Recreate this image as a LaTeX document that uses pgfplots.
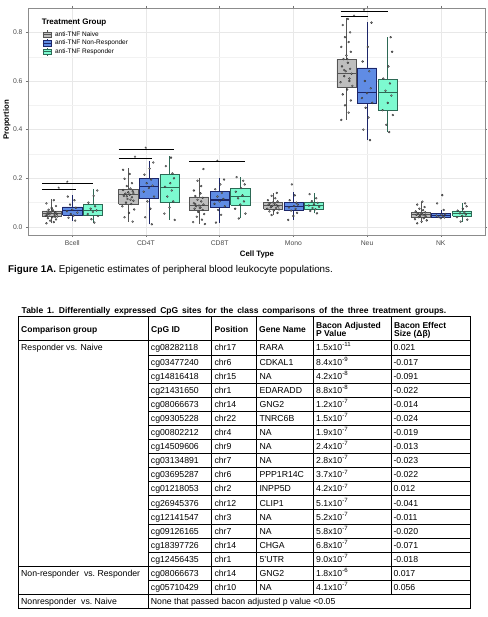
\documentclass[border=0pt]{standalone}
\usepackage{fontspec}
\setmainfont{Liberation Sans}
\usepackage{pgfplots}
\pgfplotsset{compat=1.18}
\definecolor{greyfill}{RGB}{190,190,190}
\definecolor{greyline}{RGB}{85,85,85}
\definecolor{bluefill}{RGB}{96,140,228}
\definecolor{blueline}{RGB}{28,38,105}
\definecolor{greenfill}{RGB}{125,250,208}
\definecolor{greenline}{RGB}{45,105,85}
\pgfplotsset{
  pts/.style={only marks, mark=*, mark size=1pt, mark options={draw=black!85, fill=black!45, line width=0.25pt}, forget plot},
  sig/.style={black, line width=1.1pt, forget plot},
}
\newcommand{\pts}[2]{\addplot[pts] table[x expr=\thisrow{j}+#1, y=v, row sep=\\]{#2};}
% #1 fill, #2 line, #3 centre, #4 lower whisker, #5 q1, #6 median, #7 q3, #8 upper whisker
\newcommand{\bx}[8]{%
\addplot[draw=#2, line width=0.5pt, forget plot] table[x expr=\thisrow{d}+#3, y=v, row sep=\\]{d v\\ 0 #4\\ 0 #5\\};
\addplot[draw=#2, line width=0.5pt, forget plot] table[x expr=\thisrow{d}+#3, y=v, row sep=\\]{d v\\ 0 #7\\ 0 #8\\};
\addplot[draw=#2, fill=#1, line width=0.5pt, forget plot] table[x expr=\thisrow{d}+#3, y=v, row sep=\\]{d v\\ -0.13 #5\\ 0.13 #5\\ 0.13 #7\\ -0.13 #7\\ -0.13 #5\\};
\addplot[draw=#2, line width=1.1pt, forget plot] table[x expr=\thisrow{d}+#3, y=v, row sep=\\]{d v\\ -0.13 #6\\ 0.13 #6\\};
}
\newcommand{\sigstar}[3]{\node[font=\fontsize{6.5}{6.5}\selectfont, inner sep=0pt, anchor=base] at (axis cs:#1,#2) [yshift=#3] {*};}
\newcommand{\lkey}[2]{\addlegendimage{legend image code/.code={\draw[draw=#2, fill=#1, line width=0.4pt] (0pt,-2.6pt) rectangle (8.5pt,2.6pt); \draw[#2, line width=0.7pt] (0pt,0pt) -- (8.5pt,0pt); \draw[#2, line width=0.4pt] (4.25pt,2.6pt)--(4.25pt,4pt) (4.25pt,-2.6pt)--(4.25pt,-4pt);}}}
\begin{document}
\begin{tikzpicture}
\useasboundingbox[fill=white] (0pt,0pt) rectangle (487pt,-617pt);
\begin{axis}[
  scale only axis, width=457pt, height=227pt,
  at={(28pt,-235pt)}, anchor=south west,
  xmin=0.4, xmax=6.6, ymin=-0.033, ymax=0.9,
  xtick={1,2,3,4,5,6}, xticklabels={Bcell,CD4T,CD8T,Mono,Neu,NK},
  ytick={0,0.2,0.4,0.6,0.8}, yticklabels={0.0,0.2,0.4,0.6,0.8},
  minor ytick={0.1,0.3,0.5,0.7},
  grid=both,
  major grid style={black!9, line width=0.5pt},
  minor grid style={black!5, line width=0.3pt},
  axis line style={black!45, line width=0.6pt},
  tick style={black!55, line width=0.4pt},
  tick align=outside, major tick length=2pt, minor tick length=0pt,
  tick label style={font=\fontsize{6.8}{8}\selectfont, text=black!70},
  xlabel={\textbf{Cell Type}}, ylabel={\textbf{Proportion}},
  label style={font=\fontsize{7.8}{9}\selectfont},
  xlabel style={at={(axis description cs:0.501,-0.084)}, anchor=center},
  ylabel style={at={(axis description cs:-0.046,0.507)}, anchor=center},
  legend style={at={(axis description cs:0.031,0.903)}, anchor=north west, draw=none, fill=none,
    font=\fontsize{6.5}{7.5}\selectfont, row sep=0.3pt, column sep=2.5pt, inner sep=0pt, nodes={inner sep=1pt}},
  legend cell align=left,
  clip=false,
]
% boxplots
\bx{greyfill}{greyline}{0.72}{0.015}{0.044}{0.055}{0.066}{0.114}
\bx{bluefill}{blueline}{1.0}{0.026}{0.049}{0.066}{0.083}{0.131}
\bx{greenfill}{greenline}{1.28}{0.018}{0.048}{0.069}{0.093}{0.155}
\bx{greyfill}{greyline}{1.76}{0.022}{0.094}{0.134}{0.155}{0.241}
\bx{bluefill}{blueline}{2.04}{0.011}{0.118}{0.168}{0.2}{0.271}
\bx{greenfill}{greenline}{2.32}{0.029}{0.1}{0.163}{0.216}{0.292}
\bx{greyfill}{greyline}{2.72}{0.012}{0.07}{0.087}{0.124}{0.2}
\bx{bluefill}{blueline}{3.0}{0.018}{0.083}{0.111}{0.145}{0.2}
\bx{greenfill}{greenline}{3.28}{0.035}{0.09}{0.124}{0.159}{0.205}
\bx{greyfill}{greyline}{3.725}{0.049}{0.074}{0.088}{0.101}{0.141}
\bx{bluefill}{blueline}{4.0}{0.029}{0.067}{0.083}{0.1}{0.145}
\bx{greenfill}{greenline}{4.28}{0.056}{0.074}{0.088}{0.101}{0.138}
\bx{greyfill}{greyline}{4.72}{0.44}{0.574}{0.631}{0.689}{0.857}
\bx{bluefill}{blueline}{5.0}{0.357}{0.508}{0.553}{0.654}{0.843}
\bx{greenfill}{greenline}{5.28}{0.39}{0.479}{0.552}{0.608}{0.78}
\bx{greyfill}{greyline}{5.73}{0.015}{0.04}{0.051}{0.06}{0.104}
\bx{bluefill}{blueline}{6.0}{0.036}{0.04}{0.048}{0.055}{0.07}
\bx{greenfill}{greenline}{6.29}{0.022}{0.045}{0.056}{0.066}{0.097}
% jittered points
\pts{0.72}{j v\\ -0.07 0.015\\ 0.03 0.02\\ -0.02 0.026\\ 0.06 0.031\\ -0.05 0.036\\ 0.01 0.04\\ 0.08 0.043\\ -0.08 0.046\\ 0.04 0.049\\ -0.03 0.052\\ 0.07 0.054\\ -0.01 0.057\\ 0.05 0.06\\ -0.06 0.063\\ 0.02 0.066\\ -0.04 0.071\\ 0.00 0.078\\ 0.06 0.086\\ -0.07 0.097\\ 0.03 0.11\\ 0.05 0.041\\ -0.04 0.058\\ 0.01 0.072\\ -0.06 0.05\\}
\pts{1.0}{j v\\ 0.04 0.026\\ -0.05 0.038\\ 0.02 0.047\\ -0.02 0.053\\ 0.07 0.059\\ -0.07 0.065\\ 0.00 0.071\\ 0.05 0.079\\ -0.03 0.092\\ 0.03 0.11\\ -0.06 0.125\\}
\pts{1.28}{j v\\ 0.02 0.018\\ -0.02 0.032\\ 0.07 0.045\\ -0.07 0.053\\ 0.00 0.062\\ 0.05 0.068\\ -0.03 0.075\\ 0.03 0.085\\ -0.06 0.1\\ 0.01 0.128\\ 0.06 0.15\\}
\pts{1.76}{j v\\ 0.06 0.022\\ -0.05 0.04\\ 0.01 0.058\\ 0.08 0.072\\ -0.08 0.085\\ 0.04 0.094\\ -0.03 0.1\\ 0.07 0.108\\ -0.01 0.115\\ 0.05 0.122\\ -0.06 0.128\\ 0.02 0.133\\ -0.04 0.137\\ 0.00 0.142\\ 0.06 0.147\\ -0.07 0.152\\ 0.03 0.158\\ -0.02 0.168\\ 0.05 0.18\\ -0.05 0.198\\ 0.02 0.218\\ -0.07 0.235\\ 0.03 0.112\\ -0.02 0.126\\ 0.07 0.139\\}
\pts{2.04}{j v\\ 0.04 0.011\\ -0.05 0.04\\ 0.02 0.075\\ -0.02 0.105\\ 0.07 0.125\\ -0.07 0.145\\ 0.00 0.16\\ 0.05 0.17\\ -0.03 0.18\\ 0.03 0.195\\ -0.06 0.215\\ 0.01 0.24\\ 0.06 0.265\\}
\pts{2.32}{j v\\ 0.07 0.029\\ -0.07 0.055\\ 0.00 0.08\\ 0.05 0.105\\ -0.03 0.125\\ 0.03 0.15\\ -0.06 0.165\\ 0.01 0.18\\ 0.06 0.2\\ 0.04 0.22\\ -0.05 0.25\\ 0.02 0.285\\}
\pts{2.72}{j v\\ 0.08 0.012\\ -0.08 0.02\\ 0.04 0.03\\ -0.03 0.042\\ 0.07 0.053\\ -0.01 0.062\\ 0.05 0.07\\ -0.06 0.075\\ 0.02 0.08\\ -0.04 0.085\\ 0.00 0.088\\ 0.06 0.092\\ -0.07 0.098\\ 0.03 0.105\\ -0.02 0.112\\ 0.05 0.12\\ -0.05 0.127\\ 0.02 0.138\\ -0.07 0.15\\ 0.03 0.168\\ -0.02 0.19\\ 0.06 0.238\\ 0.01 0.078\\ -0.05 0.094\\}
\pts{3.0}{j v\\ -0.05 0.018\\ 0.02 0.05\\ -0.02 0.07\\ 0.07 0.085\\ -0.07 0.095\\ 0.00 0.105\\ 0.05 0.115\\ -0.03 0.125\\ 0.03 0.14\\ -0.06 0.155\\ 0.01 0.175\\ 0.06 0.195\\}
\pts{3.28}{j v\\ -0.02 0.035\\ 0.07 0.055\\ -0.07 0.075\\ 0.00 0.092\\ 0.05 0.105\\ -0.03 0.118\\ 0.03 0.13\\ -0.06 0.145\\ 0.01 0.16\\ 0.06 0.175\\ 0.04 0.19\\ -0.05 0.205\\}
\pts{3.725}{j v\\ -0.02 0.049\\ 0.06 0.058\\ -0.05 0.064\\ 0.01 0.068\\ 0.08 0.072\\ -0.08 0.075\\ 0.04 0.078\\ -0.03 0.081\\ 0.07 0.084\\ -0.01 0.087\\ 0.05 0.089\\ -0.06 0.092\\ 0.02 0.095\\ -0.04 0.098\\ 0.00 0.101\\ 0.06 0.105\\ -0.07 0.11\\ 0.03 0.118\\ -0.02 0.128\\ 0.05 0.14\\}
\pts{4.0}{j v\\ -0.07 0.029\\ 0.00 0.045\\ 0.05 0.058\\ -0.03 0.067\\ 0.03 0.074\\ -0.06 0.08\\ 0.01 0.086\\ 0.06 0.092\\ 0.04 0.1\\ -0.05 0.11\\ 0.02 0.13\\ -0.02 0.175\\}
\pts{4.28}{j v\\ 0.04 0.056\\ -0.05 0.066\\ 0.02 0.073\\ -0.02 0.078\\ 0.07 0.083\\ -0.07 0.088\\ 0.00 0.093\\ 0.05 0.099\\ -0.03 0.106\\ 0.03 0.118\\ -0.06 0.135\\}
\pts{4.72}{j v\\ -0.07 0.44\\ 0.03 0.47\\ -0.02 0.5\\ 0.06 0.52\\ -0.05 0.545\\ 0.01 0.565\\ 0.08 0.58\\ -0.08 0.595\\ 0.04 0.61\\ -0.03 0.62\\ 0.07 0.63\\ -0.01 0.64\\ 0.05 0.65\\ -0.06 0.66\\ 0.02 0.675\\ -0.04 0.69\\ 0.00 0.705\\ 0.06 0.72\\ -0.07 0.74\\ 0.03 0.76\\ -0.02 0.78\\ 0.05 0.8\\ -0.05 0.83\\ 0.02 0.855\\ 0.04 0.6\\ -0.03 0.645\\ 0.01 0.69\\}
\pts{5.0}{j v\\ 0.04 0.357\\ -0.05 0.4\\ 0.02 0.45\\ -0.02 0.49\\ 0.07 0.51\\ -0.07 0.53\\ 0.00 0.55\\ 0.05 0.57\\ -0.03 0.6\\ 0.03 0.64\\ -0.06 0.68\\ 0.01 0.74\\ 0.06 0.84\\}
\pts{5.28}{j v\\ 0.02 0.39\\ -0.02 0.42\\ 0.07 0.46\\ -0.07 0.48\\ 0.00 0.51\\ 0.05 0.54\\ -0.03 0.56\\ 0.03 0.59\\ -0.06 0.61\\ 0.01 0.66\\ 0.06 0.72\\ 0.04 0.78\\}
\pts{5.73}{j v\\ -0.05 0.015\\ 0.01 0.022\\ 0.08 0.027\\ -0.08 0.032\\ 0.04 0.036\\ -0.03 0.04\\ 0.07 0.043\\ -0.01 0.046\\ 0.05 0.048\\ -0.06 0.05\\ 0.02 0.052\\ -0.04 0.054\\ 0.00 0.057\\ 0.06 0.06\\ -0.07 0.064\\ 0.03 0.069\\ -0.02 0.075\\ 0.05 0.082\\ -0.05 0.092\\ 0.02 0.104\\}
\pts{6.0}{j v\\ 0.00 0.036\\ 0.05 0.039\\ -0.03 0.041\\ 0.03 0.044\\ -0.06 0.047\\ 0.01 0.05\\ 0.06 0.053\\ 0.04 0.07\\ -0.05 0.097\\ 0.02 0.131\\}
\pts{6.29}{j v\\ -0.02 0.022\\ 0.07 0.03\\ -0.07 0.04\\ 0.00 0.046\\ 0.05 0.051\\ -0.03 0.056\\ 0.03 0.061\\ -0.06 0.067\\ 0.01 0.075\\ 0.06 0.085\\ 0.04 0.097\\}
% significance bars
\addplot[sig] coordinates {(0.59,0.179) (1.28,0.179)};
\addplot[sig] coordinates {(0.59,0.155) (1.055,0.155)};
\addplot[sig] coordinates {(1.63,0.319) (2.377,0.319)};
\addplot[sig] coordinates {(1.63,0.283) (2.078,0.283)};
\addplot[sig] coordinates {(2.59,0.268) (3.35,0.268)};
\addplot[sig] coordinates {(4.64,0.887) (5.28,0.887)};
\addplot[sig] coordinates {(4.64,0.864) (5.01,0.864)};
\sigstar{0.935}{0.179}{-2.5pt}
\sigstar{0.82}{0.155}{-2.5pt}
\sigstar{2.0}{0.319}{-2.5pt}
\sigstar{1.854}{0.283}{-2.5pt}
\sigstar{2.97}{0.268}{-2.5pt}
\sigstar{4.96}{0.887}{-2.5pt}
\sigstar{4.825}{0.864}{-2.5pt}
% legend
\node[anchor=west, inner sep=0pt, font=\bfseries\fontsize{8}{9}\selectfont] at (rel axis cs:0.030,0.938) {Treatment Group};
\lkey{greyfill}{greyline}
\addlegendentry{anti-TNF Naive}
\lkey{bluefill}{blueline}
\addlegendentry{anti-TNF Non-Responder}
\lkey{greenfill}{greenline}
\addlegendentry{anti-TNF Responder}
\end{axis}
% caption
\node[anchor=base west, inner sep=0pt, font=\fontsize{9.8}{11}\selectfont] at (8pt,-272.5pt) {\textbf{Figure 1A.} Epigenetic estimates of peripheral blood leukocyte populations.};
% table
\begin{scope}[x=1pt, y=-1pt, every node/.style={inner sep=0pt, anchor=base west}]
\node[font=\bfseries\fontsize{8.5}{9}\selectfont] at (21.5,313) {\spaceskip=3.9pt Table 1. Differentially expressed CpG sites for the class comparisons of the three treatment groups.};
\draw[line width=0.8pt] (18.3,316) rectangle (470,608.3);
\draw[line width=0.8pt] (18.3,340) -- (470,340);
\draw[line width=0.6pt] (148.3,316) -- (148.3,608.3);
\foreach \xx in {211.7,256.7,313.3,391.7} \draw[line width=0.6pt] (\xx,316) -- (\xx,594.2);
\draw[line width=0.6pt] (148.3,355) -- (470,355);
\foreach \k in {1,...,17} \draw[line width=0.6pt] (148.3,{355+14.07*\k}) -- (470,{355+14.07*\k});
\draw[line width=0.6pt] (18.3,566.05) -- (148.3,566.05);
\draw[line width=0.6pt] (18.3,594.2) -- (148.3,594.2);
\begin{scope}[every node/.append style={font=\bfseries\fontsize{8.5}{9}\selectfont}]
\node at (21,332.3) {Comparison group};
\node at (151,332.3) {CpG ID};
\node at (214.5,332.3) {Position};
\node at (259,332.3) {Gene Name};
\node at (316,328.3) {Bacon Adjusted};
\node at (316,336.8) {P Value};
\node at (394,328.3) {Bacon Effect};
\node at (394,336.8) {Size (Δβ)};
\end{scope}
\begin{scope}[every node/.append style={font=\fontsize{8.7}{9}\selectfont}]
\node at (21,350.7) {Responder vs. Naive};
\node at (21,576.4) {Non-responder\ \ vs.\ Responder};
\node at (21,604.5) {Nonresponder\ \ vs.\ Naive};
\node at (150.7,604.5) {None that passed bacon adjusted p value \textless0.05};
\foreach \yy/\a/\b/\c/\d/\e in {
 347.5/cg08282118/chr17/RARA/{1.5x10\textsuperscript{-11}}/0.021,
 362.0/cg03477240/chr6/CDKAL1/{8.4x10\textsuperscript{-9}}/-0.017,
 376.1/cg14816418/chr15/NA/{4.2x10\textsuperscript{-8}}/-0.091,
 390.2/cg21431650/chr1/EDARADD/{8.8x10\textsuperscript{-8}}/-0.022,
 404.2/cg08066673/chr14/GNG2/{1.2x10\textsuperscript{-7}}/-0.014,
 418.3/cg09305228/chr22/TNRC6B/{1.5x10\textsuperscript{-7}}/-0.024,
 432.4/cg00802212/chr4/NA/{1.9x10\textsuperscript{-7}}/-0.019,
 446.5/cg14509606/chr9/NA/{2.4x10\textsuperscript{-7}}/-0.013,
 460.6/cg03134891/chr7/NA/{2.8x10\textsuperscript{-7}}/-0.023,
 474.7/cg03695287/chr6/PPP1R14C/{3.7x10\textsuperscript{-7}}/-0.022,
 488.7/cg01218053/chr2/INPP5D/{4.2x10\textsuperscript{-7}}/0.012,
 502.8/cg26945376/chr12/CLIP1/{5.1x10\textsuperscript{-7}}/-0.041,
 516.9/cg12141547/chr3/NA/{5.2x10\textsuperscript{-7}}/-0.011,
 531.0/cg09126165/chr7/NA/{5.8x10\textsuperscript{-7}}/-0.020,
 545.0/cg18397726/chr14/CHGA/{6.8x10\textsuperscript{-7}}/-0.071,
 559.1/cg12456435/chr1/5'UTR/{9.0x10\textsuperscript{-7}}/-0.018,
 573.2/cg08066673/chr14/GNG2/{1.8x10\textsuperscript{-6}}/0.017,
 587.3/cg05710429/chr10/NA/{4.1x10\textsuperscript{-7}}/0.056} {
  \node at (150.7,\yy+3.2) {\a};
  \node at (214.3,\yy+3.2) {\b};
  \node at (259.3,\yy+3.2) {\c};
  \node at (316,\yy+3.2) {\d};
  \node at (393.3,\yy+3.2) {\e};
}
\end{scope}
\end{scope}
\end{tikzpicture}
\end{document}
